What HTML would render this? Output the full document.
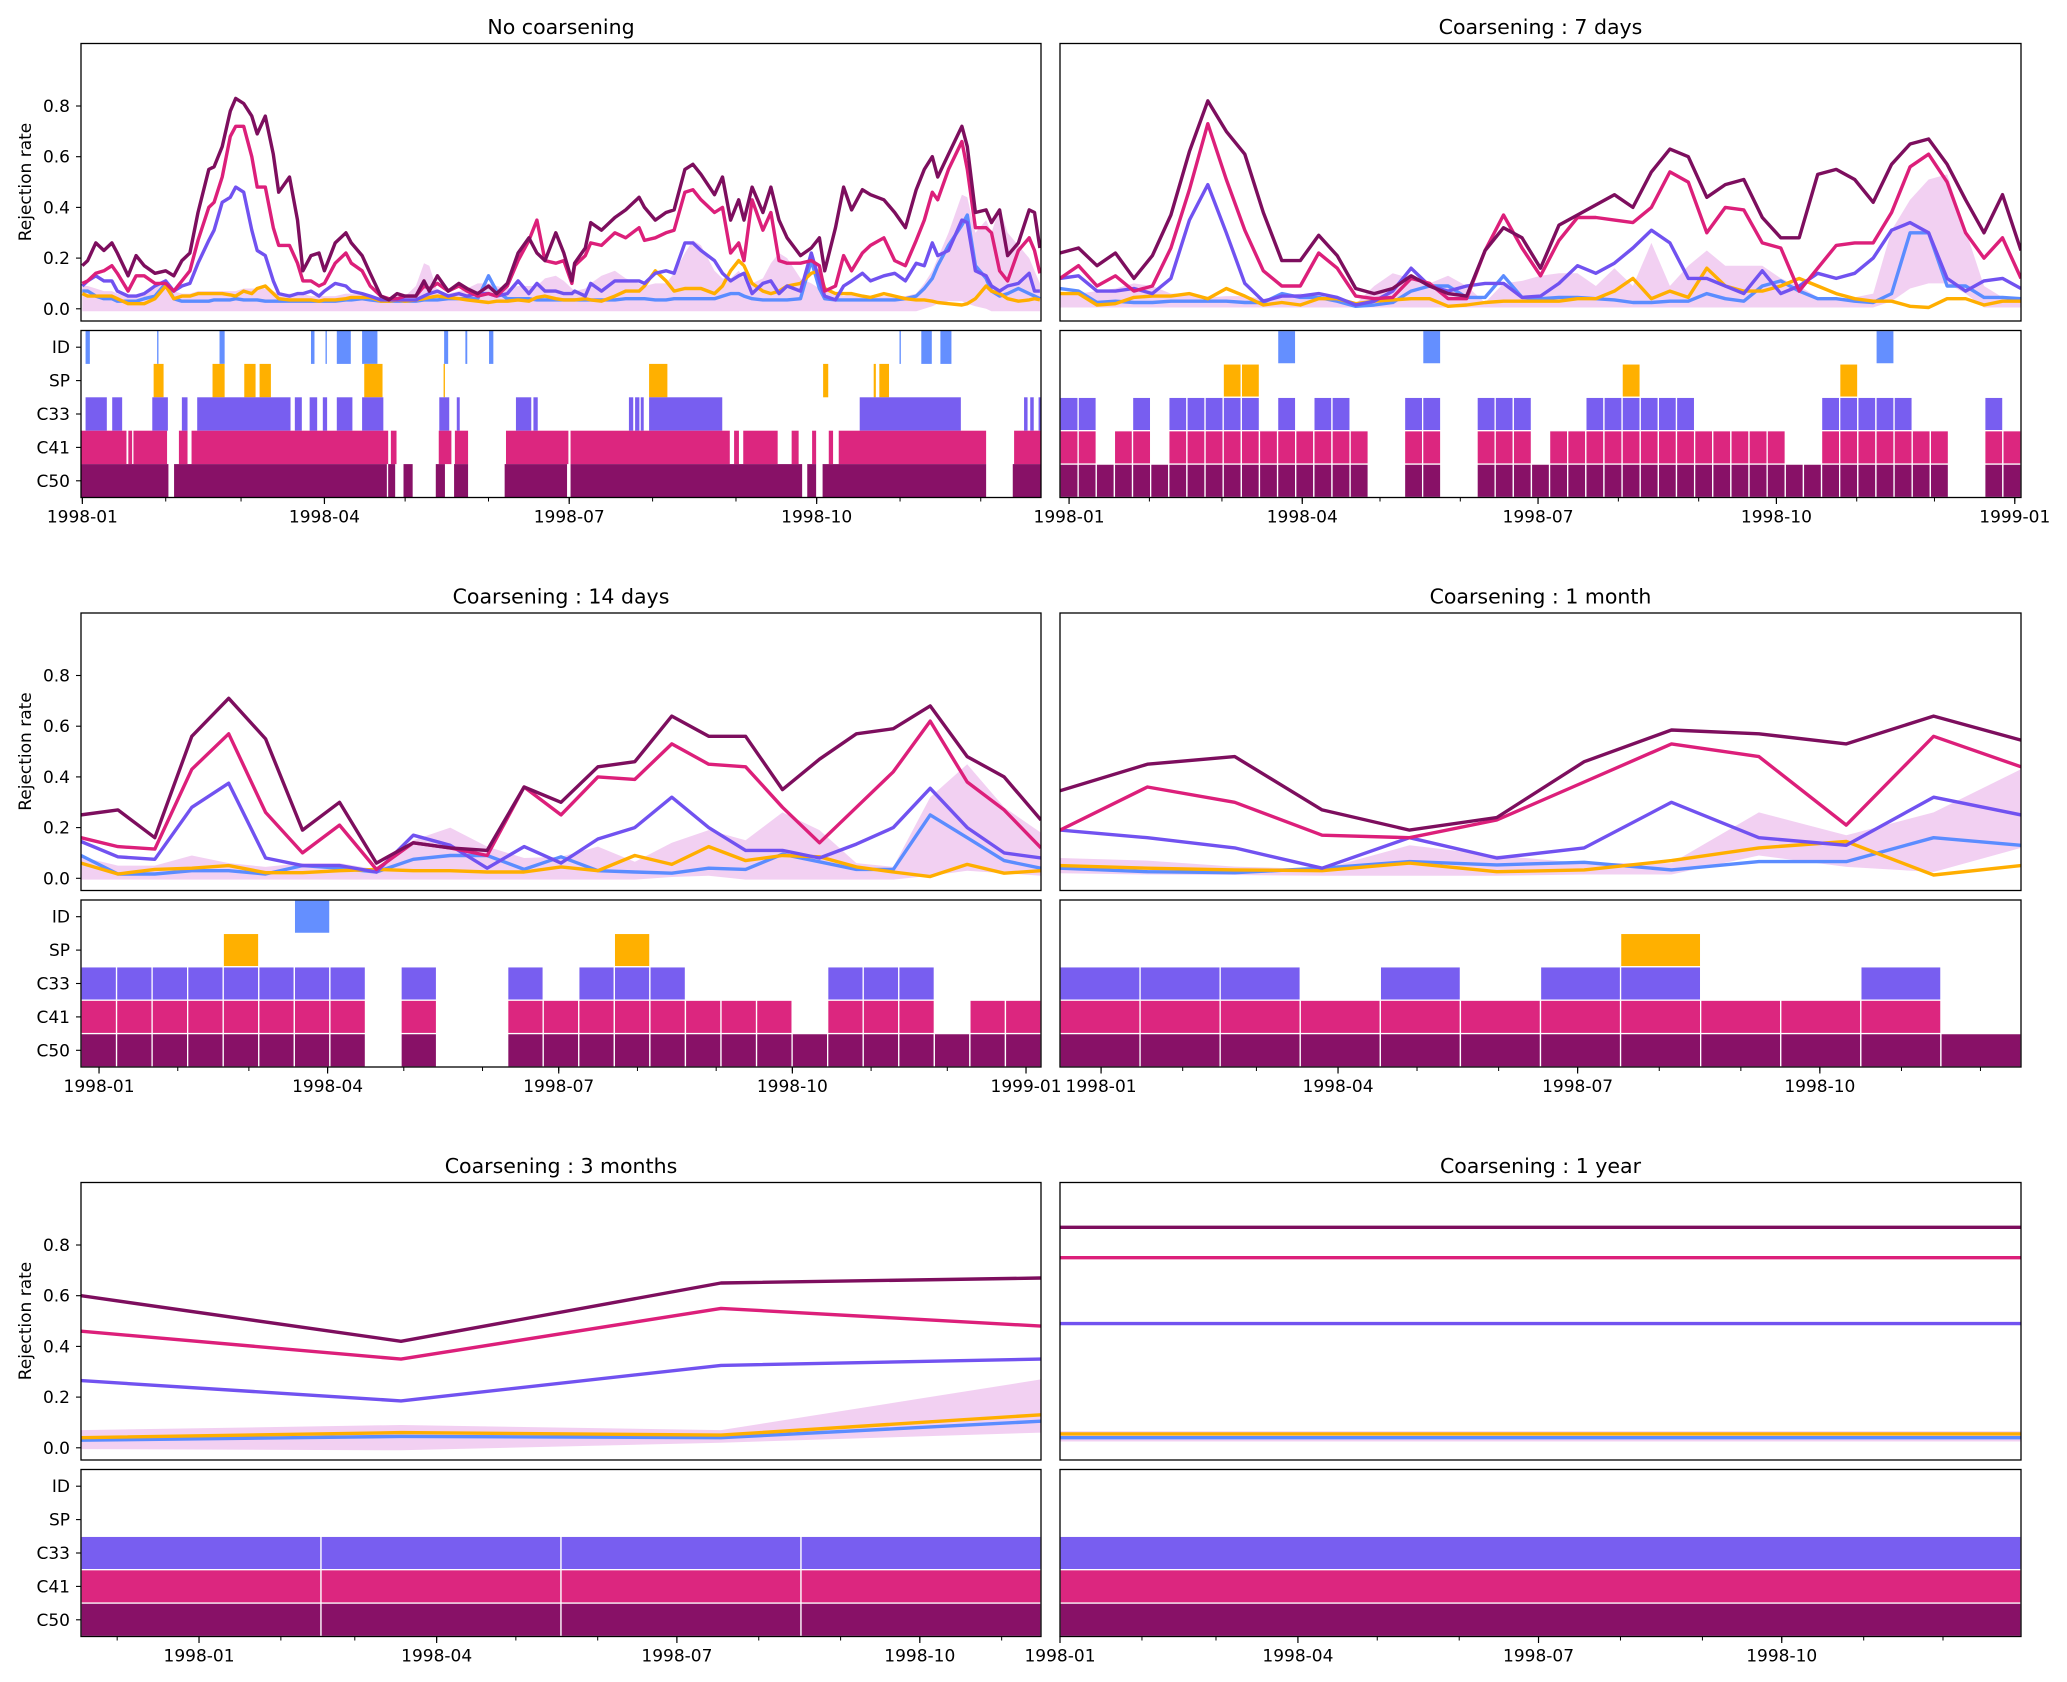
<!DOCTYPE html>
<html><head><meta charset="utf-8">
<style>
html,body{margin:0;padding:0;background:#fff;}
svg{display:block;font-family:"DejaVu Sans","Liberation Sans",sans-serif;}
</style></head>
<body>
<svg id="chart" width="2067" height="1682" viewBox="0 0 2067 1682" xmlns="http://www.w3.org/2000/svg"></svg>
<script>
// ---------- Panel 1 : no coarsening (daily) ----------
const p1Days=[0,2,5,8,11,13,17,20,23,27,31,34,37,40,43,47,49,52,55,57,60,63,65,68,71,73,77,80,82,85,88,90,94,98,100,104,107,111,114,117,120,124,127,129,132,136,140,143,147,151,154,158,162,166,169,172,176,179,182,183,187,189,193,198,202,207,209,213,217,220,224,227,230,235,238,241,244,246,249,253,256,259,262,267,271,274,276,280,283,286,290,293,298,302,306,310,313,316,318,322,327,329,332,336,338,341,344,348,352,354,356];
const p1C50=[.17,.19,.26,.23,.26,.22,.13,.21,.17,.14,.15,.13,.19,.22,.38,.55,.56,.64,.78,.83,.81,.76,.69,.76,.61,.46,.52,.35,.15,.21,.22,.15,.26,.30,.26,.21,.14,.05,.035,.06,.05,.05,.11,.07,.13,.07,.10,.08,.06,.09,.06,.10,.22,.28,.22,.19,.30,.22,.11,
.18,.24,.34,.31,.36,.39,.44,.40,.35,.38,.39,.55,.57,.53,.45,.52,.35,.43,.35,.48,.38,.48,.35,.28,.21,.24,.28,.15,.32,.48,.39,.47,.45,.43,.38,.32,.47,.55,.60,.52,.61,.72,.64,.38,.39,.34,.39,.21,.26,.39,.38,.24];
const p1C41=[.10,.11,.14,.15,.17,.14,.07,.13,.13,.10,.10,.07,.11,.15,.27,.40,.42,.52,.68,.72,.72,.60,.48,.48,.32,.25,.25,.18,.11,.11,.09,.10,.18,.22,.18,.15,.09,.05,.04,.04,.05,.05,.09,.08,.10,.07,.09,.07,.05,.06,.05,.09,.19,.27,.35,.19,.18,.19,.10,
.17,.21,.26,.25,.30,.28,.32,.27,.28,.30,.31,.46,.47,.43,.38,.40,.22,.26,.19,.43,.31,.38,.19,.18,.18,.19,.17,.07,.09,.21,.15,.22,.25,.28,.19,.17,.27,.35,.46,.43,.55,.66,.55,.32,.32,.30,.15,.11,.23,.28,.23,.14];
const p1C33=[.09,.11,.13,.11,.11,.07,.05,.05,.06,.09,.11,.07,.09,.10,.18,.27,.31,.42,.44,.48,.46,.31,.23,.21,.11,.06,.05,.06,.06,.07,.05,.07,.10,.09,.07,.06,.05,.035,.035,.035,.035,.035,.05,.06,.07,.05,.06,.05,.06,.06,.05,.06,.11,.06,.10,.07,.07,.06,.06,
.07,.05,.10,.07,.11,.11,.11,.10,.14,.15,.14,.26,.26,.23,.19,.14,.11,.13,.14,.06,.10,.11,.06,.09,.07,.22,.11,.05,.035,.09,.11,.14,.11,.13,.14,.11,.18,.17,.26,.21,.23,.35,.34,.15,.13,.09,.07,.09,.10,.14,.07,.07];
const p1ID=[.07,.07,.05,.04,.04,.03,.03,.03,.04,.05,.10,.04,.03,.03,.03,.03,.035,.035,.035,.04,.035,.035,.035,.03,.03,.03,.03,.03,.03,.03,.03,.03,.03,.035,.035,.04,.035,.03,.03,.03,.03,.03,.035,.035,.035,.04,.04,.04,.04,.13,.07,.04,.04,.04,.035,.035,.035,.035,.035,
.035,.035,.035,.035,.035,.04,.04,.04,.035,.035,.04,.04,.04,.04,.04,.05,.06,.06,.05,.04,.035,.035,.035,.035,.04,.19,.08,.04,.035,.035,.035,.035,.035,.035,.035,.04,.05,.08,.12,.17,.25,.33,.37,.17,.12,.07,.05,.06,.08,.06,.05,.04];
const p1SP=[.06,.05,.05,.05,.05,.04,.02,.02,.02,.04,.09,.04,.05,.05,.06,.06,.06,.06,.055,.05,.07,.06,.08,.09,.06,.04,.035,.035,.035,.035,.03,.035,.035,.04,.045,.045,.045,.03,.03,.035,.03,.035,.04,.045,.05,.045,.04,.035,.03,.025,.03,.03,.035,.03,.045,.05,.04,.035,.035,
.035,.04,.035,.03,.05,.07,.07,.09,.15,.11,.07,.08,.08,.08,.06,.09,.15,.19,.17,.10,.07,.06,.07,.09,.10,.14,.15,.08,.06,.06,.06,.05,.045,.06,.05,.04,.035,.035,.03,.025,.02,.015,.02,.04,.09,.07,.06,.04,.03,.035,.04,.035];
const p1BandHi=[.09,.09,.08,.07,.07,.06,.05,.05,.06,.08,.12,.07,.06,.06,.07,.07,.07,.07,.07,.07,.08,.08,.08,.08,.07,.06,.06,.06,.06,.05,.05,.05,.05,.06,.06,.06,.05,.04,.04,.05,.05,.09,.18,.17,.07,.06,.07,.08,.10,.10,.09,.08,.09,.09,.09,.12,.13,.11,.08,
.07,.08,.10,.13,.15,.12,.10,.09,.10,.10,.14,.22,.27,.25,.15,.12,.12,.15,.12,.10,.12,.18,.22,.20,.12,.10,.08,.09,.06,.05,.06,.05,.05,.05,.05,.05,.06,.10,.15,.20,.30,.45,.44,.30,.35,.30,.40,.30,.25,.20,.15,.10];
const p1BandLo=[-.01,-.01,-.01,-.01,-.01,-.01,-.01,-.01,-.01,-.01,-.01,-.01,-.01,-.01,-.01,-.01,-.01,-.01,-.01,-.01,-.01,-.01,-.01,-.01,-.01,-.01,-.01,-.01,-.01,-.01,-.01,-.01,-.01,-.01,-.01,-.01,-.01,-.01,-.01,-.01,-.01,-.01,-.01,-.01,-.01,-.01,-.01,-.01,-.01,-.01,-.01,-.01,-.01,-.01,-.01,-.01,-.01,-.01,-.01,
-.01,-.01,-.01,-.01,-.01,-.01,-.01,-.01,-.01,-.01,-.01,-.01,-.01,-.01,-.01,-.01,-.01,-.01,-.01,-.01,-.01,-.01,-.01,-.01,-.01,-.01,-.01,-.01,-.01,-.01,-.01,-.01,-.01,-.01,-.01,-.01,-.01,0,.01,.02,.03,.03,.02,.01,0,-.01,-.01,-.01,-.01,-.01,-.01,-.01];
const p1BarID=[[1.2,2.8],[27.8,28.3],[51,52.9],[85,86.3],[90.4,90.9],[94.6,99.8],[104,109.7],[134.5,136],[142.4,143.1],[151.2,152.8],[303.8,304.3],[311.9,315.8],[319,323.1]];
const p1BarSP=[[26.5,30.2],[48.4,52.9],[60.2,64.4],[65.9,70.1],[104.8,111.6],[134.3,134.8],[210.7,217.5],[275.4,277.3],[294.2,295],[296.3,299.9]];
const p1BarC33=[[1.2,9.1],[11.1,14.8],[26,31.8],[37,39.1],[42.7,77.4],[79,81.6],[84.5,87.3],[89.4,91],[94.6,100.4],[104,111.9],[132.7,136.4],[139.2,140.3],[161.2,166.9],[167.7,169.3],[203.2,204.8],[205.5,207.1],[207.6,208.7],[210.7,237.9],[289,326.6],[350.1,351.4],[352.4,353.7],[355.5,356.4]];
const p1BarC41=[[-0.5,16.4],[17.1,18.5],[19,31.5],[35.9,39.1],[40.6,113.7],[114.7,116.8],[132.5,137.2],[138.5,143.4],[157.5,180.7],[181.5,240.7],[242.3,244.1],[245.7,258.5],[263.7,266.3],[271.3,272.8],[277.5,279.1],[281.2,336],[346.4,356.4]];
const p1BarC50=[[-0.5,32],[34.1,113.2],[113.7,116.3],[119.4,122.8],[131.4,134.8],[138.2,143.4],[157,180.2],[181.5,267.6],[269.5,272.8],[275.2,336],[345.9,356.4]];

// ---------- Panel 2 : 7 days ----------
const p2C50=[.22,.24,.17,.22,.12,.21,.37,.62,.82,.70,.61,.38,.19,.19,.29,.21,.08,.06,.08,.13,.09,.06,.05,.23,.32,.28,.16,.33,.37,.41,.45,.40,.54,.63,.60,.44,.49,.51,.36,.28,.28,.53,.55,.51,.42,.57,.65,.67,.57,.43,.30,.45,.23];
const p2C41=[.12,.17,.09,.13,.07,.09,.24,.47,.73,.51,.31,.15,.09,.09,.22,.16,.05,.04,.045,.12,.10,.04,.04,.23,.37,.24,.13,.27,.36,.36,.35,.34,.40,.54,.50,.30,.40,.39,.26,.24,.07,.16,.25,.26,.26,.38,.56,.61,.50,.30,.20,.28,.12];
const p2C33=[.12,.13,.07,.07,.08,.06,.12,.35,.49,.30,.10,.03,.05,.05,.06,.045,.015,.03,.07,.16,.09,.07,.09,.10,.10,.045,.05,.10,.17,.14,.18,.24,.31,.26,.12,.12,.09,.06,.15,.06,.09,.14,.12,.14,.20,.31,.34,.30,.12,.07,.11,.12,.08];
const p2ID=[.08,.07,.025,.03,.025,.025,.03,.03,.03,.03,.025,.025,.06,.045,.045,.03,.01,.015,.025,.07,.09,.09,.045,.045,.13,.045,.04,.045,.045,.04,.035,.025,.025,.03,.03,.06,.04,.03,.09,.11,.07,.04,.04,.03,.025,.06,.30,.30,.09,.09,.045,.045,.04];
const p2SP=[.06,.06,.015,.02,.045,.05,.05,.06,.04,.08,.05,.015,.025,.015,.04,.04,.02,.03,.035,.04,.04,.01,.015,.025,.03,.03,.03,.03,.04,.04,.07,.12,.04,.07,.045,.16,.09,.07,.07,.09,.12,.09,.06,.04,.03,.03,.01,.005,.04,.04,.015,.03,.03];
const p2BandHi=[.06,.06,.07,.08,.10,.09,.06,.06,.045,.05,.05,.04,.05,.06,.05,.04,.02,.09,.14,.12,.10,.13,.09,.025,.10,.11,.13,.14,.14,.09,.16,.09,.26,.09,.17,.23,.17,.17,.17,.12,.09,.045,.04,.045,.06,.31,.43,.51,.53,.31,.09,.045,.03];
const p2BandLo=[.005,.005,.005,.005,.005,.005,.005,.005,.005,.005,.005,.005,.005,.005,.005,.005,.005,.005,.005,.005,.005,.005,.005,.005,.005,.005,.005,.005,.005,.005,.005,.005,.005,.005,.005,.005,.005,.005,.005,.005,.005,.005,.005,.005,.005,.03,.08,.10,.10,.06,.005,.005,.005];
const p2BarID=[12,20,45];
const p2BarSP=[9,10,31,43];
const p2BarC33=[0,1,4,6,7,8,9,10,12,14,15,19,20,23,24,25,29,30,31,32,33,34,42,43,44,45,46,51];
const p2BarC41=[0,1,3,4,6,7,8,9,10,11,12,13,14,15,16,19,20,23,24,25,27,28,29,30,31,32,33,34,35,36,37,38,39,42,43,44,45,46,47,48,51,52];
const p2BarC50=[0,1,2,3,4,5,6,7,8,9,10,11,12,13,14,15,16,19,20,23,24,25,26,27,28,29,30,31,32,33,34,35,36,37,38,39,40,41,42,43,44,45,46,47,48,51,52];

// ---------- Panel 3 : 14 days ----------
const p3C50=[.25,.27,.16,.56,.71,.55,.19,.30,.06,.14,.12,.11,.36,.30,.44,.46,.64,.56,.56,.35,.47,.57,.59,.68,.48,.40,.23];
const p3C41=[.16,.125,.115,.43,.57,.26,.10,.21,.035,.14,.12,.09,.36,.25,.40,.39,.53,.45,.44,.28,.14,.28,.42,.62,.38,.27,.12];
const p3C33=[.145,.085,.075,.28,.375,.08,.05,.05,.025,.17,.13,.04,.125,.06,.155,.20,.32,.20,.11,.11,.08,.135,.20,.355,.20,.10,.08];
const p3ID=[.09,.017,.017,.03,.03,.017,.05,.04,.025,.075,.09,.09,.035,.085,.03,.025,.02,.04,.035,.095,.065,.035,.035,.25,.16,.07,.04];
const p3SP=[.06,.017,.035,.04,.05,.022,.022,.03,.035,.03,.03,.025,.025,.045,.03,.09,.055,.125,.07,.09,.085,.045,.025,.007,.055,.02,.03];
const p3BandHi=[.085,.05,.05,.09,.06,.045,.06,.06,.035,.15,.20,.125,.08,.085,.125,.065,.14,.19,.15,.26,.19,.06,.045,.32,.45,.28,.18];
const p3BandLo=[-.005,-.005,-.005,-.005,-.005,-.005,-.005,-.005,-.005,-.005,-.005,-.005,-.005,-.005,-.005,-.005,.005,.01,-.005,-.005,-.005,-.005,-.005,.01,.03,.02,.01];
const p3BarID=[6];
const p3BarSP=[4,15];
const p3BarC33=[0,1,2,3,4,5,6,7,9,12,14,15,16,21,22,23];
const p3BarC41=[0,1,2,3,4,5,6,7,9,12,13,14,15,16,17,18,19,21,22,23,25,26];
const p3BarC50=[0,1,2,3,4,5,6,7,9,12,13,14,15,16,17,18,19,20,21,22,23,24,25,26];

// ---------- Panel 4 : 1 month ----------
const p4C50=[.345,.45,.48,.27,.19,.24,.46,.585,.57,.53,.64,.545];
const p4C41=[.19,.36,.30,.17,.16,.23,.38,.53,.48,.21,.56,.44];
const p4C33=[.19,.16,.12,.04,.16,.08,.12,.30,.16,.13,.32,.25];
const p4ID=[.04,.026,.022,.04,.066,.053,.063,.033,.066,.066,.16,.13];
const p4SP=[.05,.04,.033,.03,.06,.026,.033,.07,.12,.145,.013,.05];
const p4BandHi=[.08,.07,.046,.036,.13,.09,.06,.06,.26,.17,.26,.43];
const p4BandLo=[.02,.015,.013,.01,.01,.01,.015,.015,.09,.045,.025,.12];
const p4BarID=[];
const p4BarSP=[7];
const p4BarC33=[0,1,2,4,6,7,10];
const p4BarC41=[0,1,2,3,4,5,6,7,8,9,10];
const p4BarC50=[0,1,2,3,4,5,6,7,8,9,10,11];

// ---------- Panel 5 : 3 months ----------
const p5C50=[.60,.42,.65,.67];
const p5C41=[.46,.35,.55,.48];
const p5C33=[.265,.185,.325,.35];
const p5ID=[.03,.045,.04,.105];
const p5SP=[.04,.06,.05,.13];
const p5BandHi=[.07,.09,.07,.27];
const p5BandLo=[-.005,-.01,.02,.06];
const p5BarID=[];
const p5BarSP=[];
const p5BarC33=[0,1,2,3];
const p5BarC41=[0,1,2,3];
const p5BarC50=[0,1,2,3];

// ---------- Panel 6 : 1 year ----------
const p6C50=[.87];
const p6C41=[.75];
const p6C33=[.49];
const p6ID=[.04];
const p6SP=[.055];
const p6BandHi=[.065];
const p6BandLo=[.025];
const p6BarID=[];
const p6BarSP=[];
const p6BarC33=[0];
const p6BarC41=[0];
const p6BarC50=[0];

// ---------- axis labels ----------
const yTickVals=[0,0.2,0.4,0.6,0.8];
const yTickLabels=['0.0','0.2','0.4','0.6','0.8'];
const categories=['ID','SP','C33','C41','C50'];
const xTickDays=[0,90,181,273,365];
const xTickLabels=['1998-01','1998-04','1998-07','1998-10','1999-01'];
const monthStartDays=[-31,0,31,59,90,120,151,181,212,243,273,304,334,365];

const NS='http://www.w3.org/2000/svg';
const svg=document.getElementById('chart');
const COL={ID:'#648fff',SP:'#ffb000',C33:'#785ef0',C41:'#dc267f',C50:'#881167'};
const LINECOL={ID:'#5b8cff',SP:'#ffae00',C33:'#7152f0',C41:'#dc1f7a',C50:'#7d0e5e'};
const COLX=[[81,1041],[1060,2021]];
const ROWOFF=[0,569.5,1139];
function mk(tag,parent){const e=document.createElementNS(NS,tag);parent.appendChild(e);return e;}
function at(e,o){for(const k in o)e.setAttribute(k,o[k]);return e;}

const panels=[
 {name:'no-coarsening',title:'No coarsening',col:0,row:0,dom:[-0.5,356.4],days:p1Days,
  S:{ID:p1ID,SP:p1SP,C33:p1C33,C41:p1C41,C50:p1C50},hi:p1BandHi,lo:p1BandLo,
  B:{ID:p1BarID,SP:p1BarSP,C33:p1BarC33,C41:p1BarC41,C50:p1BarC50},interval:true,nt:4},
 {name:'coarsening-7-days',title:'Coarsening : 7 days',col:1,row:0,dom:[-3.5,367.4],
  S:{ID:p2ID,SP:p2SP,C33:p2C33,C41:p2C41,C50:p2C50},hi:p2BandHi,lo:p2BandLo,
  B:{ID:p2BarID,SP:p2BarSP,C33:p2BarC33,C41:p2BarC41,C50:p2BarC50},nt:5},
 {name:'coarsening-14-days',title:'Coarsening : 14 days',col:0,row:1,dom:[-7.1,370.9],
  S:{ID:p3ID,SP:p3SP,C33:p3C33,C41:p3C41,C50:p3C50},hi:p3BandHi,lo:p3BandLo,
  B:{ID:p3BarID,SP:p3BarSP,C33:p3BarC33,C41:p3BarC41,C50:p3BarC50},nt:5},
 {name:'coarsening-1-month',title:'Coarsening : 1 month',col:1,row:1,dom:[-15.6,349.4],
  S:{ID:p4ID,SP:p4SP,C33:p4C33,C41:p4C41,C50:p4C50},hi:p4BandHi,lo:p4BandLo,
  B:{ID:p4BarID,SP:p4BarSP,C33:p4BarC33,C41:p4BarC41,C50:p4BarC50},nt:4},
 {name:'coarsening-3-months',title:'Coarsening : 3 months',col:0,row:2,dom:[-44.7,318.9],
  S:{ID:p5ID,SP:p5SP,C33:p5C33,C41:p5C41,C50:p5C50},hi:p5BandHi,lo:p5BandLo,
  B:{ID:p5BarID,SP:p5BarSP,C33:p5BarC33,C41:p5BarC41,C50:p5BarC50},nt:4},
 {name:'coarsening-1-year',title:'Coarsening : 1 year',col:1,row:2,dom:[0,363.5],
  S:{ID:p6ID,SP:p6SP,C33:p6C33,C41:p6C41,C50:p6C50},hi:p6BandHi,lo:p6BandLo,
  B:{ID:p6BarID,SP:p6BarSP,C33:p6BarC33,C41:p6BarC41,C50:p6BarC50},nt:4}
];

panels.forEach(p=>{
  const [L,R]=COLX[p.col];const o=ROWOFF[p.row];const Wd=R-L;
  const uT=43.5+o,uB=321+o,lT=330.5+o,lB=497.5+o;
  const yv=v=>308.8+o-v*253.5;
  const xd=d=>L+(d-p.dom[0])/(p.dom[1]-p.dom[0])*Wd;
  const g=mk('g',svg);
  
  
  // title
  const t=at(mk('text',g),{x:(L+R)/2,y:34+o,'text-anchor':'middle','font-size':'20.5px',fill:'#000'});
  t.textContent=p.title;
  
  
  // clip
  const cid='clip-'+p.name;
  const cp=at(mk('clipPath',g),{id:cid});
  at(mk('rect',cp),{x:L,y:uT,width:Wd,height:uB-uT});
  const plot=at(mk('g',g),{'clip-path':'url(#'+cid+')'});
  
  
  const n=p.S.C50.length;
  const xi=i=>p.days?xd(p.days[i]):(n===1?L:L+i*Wd/(n-1));
  const ptsOf=arr=>{
    if(arr.length===1) return [[L,yv(arr[0])],[R,yv(arr[0])]];
    return arr.map((v,i)=>[xi(i),yv(v)]);
  };
  // band
  const hiP=ptsOf(p.hi),loP=ptsOf(p.lo).reverse();
  const band=at(mk('polygon',plot),{points:hiP.concat(loP).map(q=>q[0].toFixed(1)+','+q[1].toFixed(1)).join(' '),fill:'#e8a9e8','fill-opacity':'0.55',stroke:'none'});
  
  
  ['ID','SP','C33','C41','C50'].forEach(k=>{
    const pl=at(mk('polyline',plot),{points:ptsOf(p.S[k]).map(q=>q[0].toFixed(1)+','+q[1].toFixed(1)).join(' '),fill:'none',stroke:LINECOL[k],'stroke-width':3.4,'stroke-linejoin':'round','stroke-linecap':'butt'});
    
    
  });
  // upper frame
  const f1=at(mk('rect',g),{x:L,y:uT,width:Wd,height:uB-uT,fill:'none',stroke:'#000','stroke-width':1.3});
  
  
  if(p.col===0){
    yTickVals.forEach((v,i)=>{
      at(mk('line',g),{x1:L-5,x2:L,y1:yv(v),y2:yv(v),stroke:'#000','stroke-width':1.1});
      const tl=at(mk('text',g),{x:L-11,y:yv(v)+6,'text-anchor':'end','font-size':'17px'});
      tl.textContent=yTickLabels[i];
      
      
    });
    const yl=at(mk('text',g),{x:0,y:0,transform:'translate(31,'+(182+o)+') rotate(-90)','text-anchor':'middle','font-size':'17px'});
    yl.textContent='Rejection rate';
    
    
  }
  // lower bars
  const bh=(lB-lT)/5;
  const lower=mk('g',g);
  
  
  categories.forEach((c,ci)=>{
    const y0=lT+ci*bh;
    p.B[c].forEach(b=>{
      let x0,x1;
      if(p.interval){x0=xd(b[0]);x1=xd(b[1]);}
      else{x0=L+b*Wd/n;x1=L+(b+1)*Wd/n;}
      x0=Math.max(L,x0);x1=Math.min(R,x1);
      const r=at(mk('rect',lower),{x:x0.toFixed(2),y:y0.toFixed(2),width:(x1-x0).toFixed(2),height:bh.toFixed(2),fill:COL[c]});
      if(!p.interval){r.setAttribute('stroke','#fff');r.setAttribute('stroke-width','1.3');}
      
      
    });
    if(p.col===0){
      at(mk('line',g),{x1:L-5,x2:L,y1:y0+bh/2,y2:y0+bh/2,stroke:'#000','stroke-width':1.1});
      const cl=at(mk('text',g),{x:L-11,y:y0+bh/2+6,'text-anchor':'end','font-size':'17px'});
      cl.textContent=c;
      
      
    }
  });
  const f2=at(mk('rect',g),{x:L,y:lT,width:Wd,height:lB-lT,fill:'none',stroke:'#000','stroke-width':1.3});
  
  
  // x ticks
  monthStartDays.forEach(d=>{
    const x=xd(d);if(x<L-0.5||x>R+0.5)return;
    at(mk('line',g),{x1:x,x2:x,y1:lB,y2:lB+4,stroke:'#000','stroke-width':1});
  });
  xTickDays.slice(0,p.nt).forEach((d,i)=>{
    const x=xd(d);if(x<L-1||x>R+1)return;
    at(mk('line',g),{x1:x,x2:x,y1:lB,y2:lB+6.5,stroke:'#000','stroke-width':1.2});
    const xl=at(mk('text',g),{x:x,y:lB+25,'text-anchor':'middle','font-size':'17px'});
    xl.textContent=xTickLabels[i];
    
    
  });
});
</script>
</body></html>
